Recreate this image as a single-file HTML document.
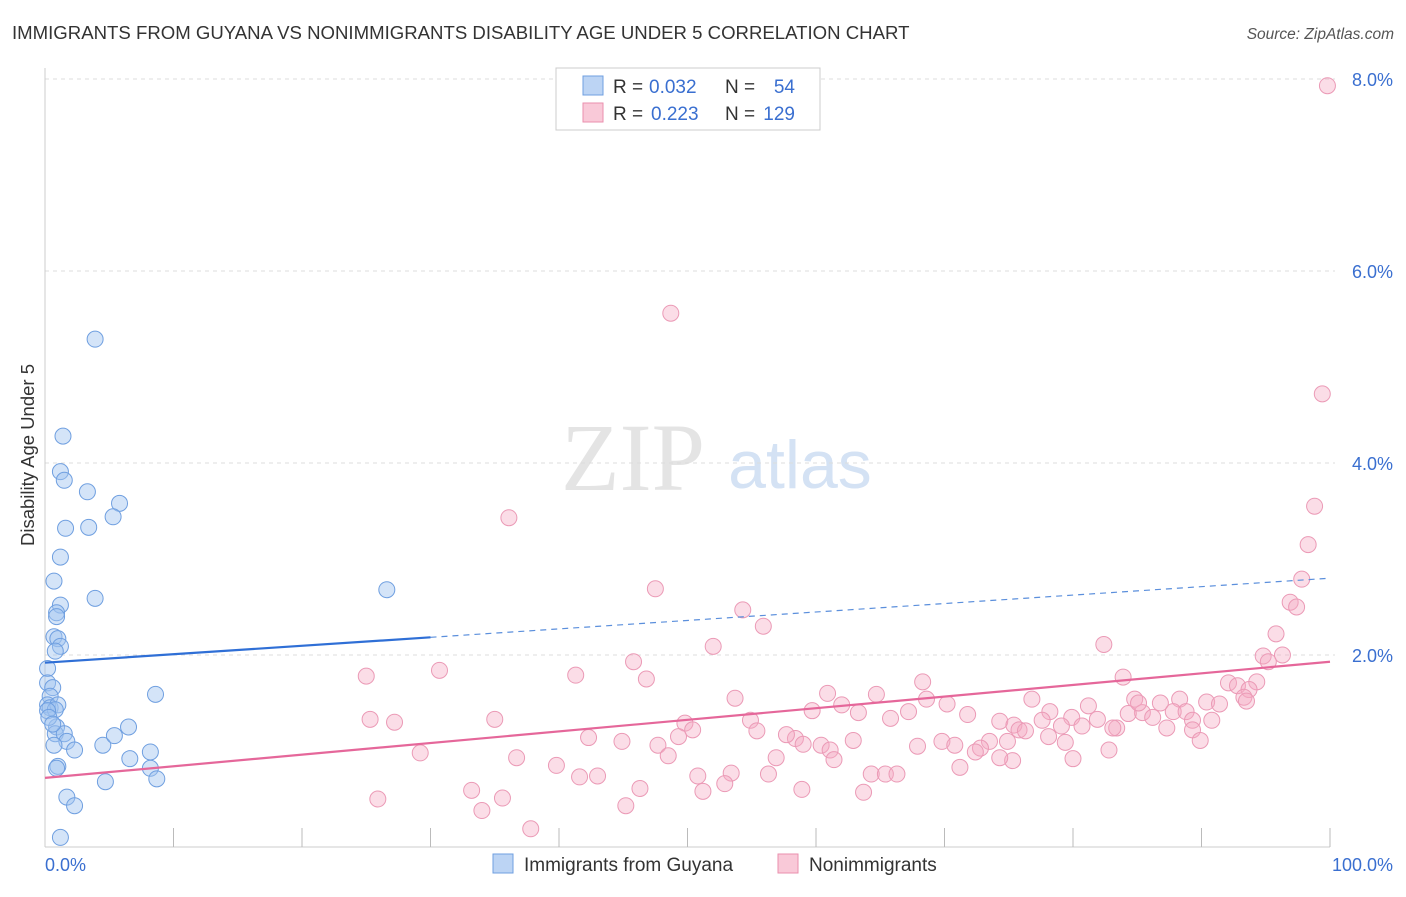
<!DOCTYPE html>
<html><head><meta charset="utf-8"><style>
body{margin:0;background:#fff;font-family:"Liberation Sans",sans-serif;}
svg text{font-family:"Liberation Sans",sans-serif;}
</style></head><body>
<svg id="chart" width="1406" height="892">
<text x="12" y="39" font-size="18.6" fill="#333">IMMIGRANTS FROM GUYANA VS NONIMMIGRANTS DISABILITY AGE UNDER 5 CORRELATION CHART</text>
<text x="1394" y="39" font-size="15.5" fill="#555" font-style="italic" text-anchor="end">Source: ZipAtlas.com</text>
<text x="34" y="455" font-size="18.5" fill="#333" text-anchor="middle" transform="rotate(-90 34 455)">Disability Age Under 5</text>
<g>
<text x="633" y="490" font-size="96" fill="#e4e4e4" text-anchor="middle" font-family="Liberation Serif" style="font-family:'Liberation Serif',serif">ZIP</text>
<text x="800" y="488" font-size="68" fill="#d4e2f4" text-anchor="middle">atlas</text>
</g>
<g id="grid"></g>
<g id="marks"></g>
<g>
<rect x="556" y="68" width="264" height="62" fill="#fff" stroke="#ccc"/>
<rect x="583" y="76" width="20" height="19" fill="#bcd4f4" stroke="#6f9fe0"/>
<rect x="583" y="103" width="20" height="19" fill="#f9c9d8" stroke="#ea8fae"/>
<text x="613" y="93" font-size="19" fill="#333">R =</text>
<text x="649" y="93" font-size="19" fill="#3a6fd0">0.032</text>
<text x="725" y="93" font-size="19" fill="#333">N =</text>
<text x="795" y="93" font-size="19" fill="#3a6fd0" text-anchor="end">54</text>
<text x="613" y="120" font-size="19" fill="#333">R =</text>
<text x="651" y="120" font-size="19" fill="#3a6fd0">0.223</text>
<text x="725" y="120" font-size="19" fill="#333">N =</text>
<text x="795" y="120" font-size="19" fill="#3a6fd0" text-anchor="end">129</text>
</g>
<g>
<rect x="493" y="854" width="20" height="19" fill="#bcd4f4" stroke="#6f9fe0"/>
<text x="524" y="871" font-size="19" fill="#333">Immigrants from Guyana</text>
<rect x="778" y="854" width="20" height="19" fill="#f9c9d8" stroke="#ea8fae"/>
<text x="809" y="871" font-size="19" fill="#333">Nonimmigrants</text>
</g>
</svg>
<script>
const yTicks=[2,4,6,8];
const yTickLabels=["2.0%","4.0%","6.0%","8.0%"];
const xTickLabels=["0.0%","100.0%"];
const blueX=[3.9,1.4,1.2,1.5,3.3,5.8,5.3,1.6,3.4,1.2,0.7,3.9,1.2,0.9,0.9,0.7,1.0,1.2,0.8,0.2,0.2,0.6,0.4,0.2,0.4,1.0,0.8,0.2,0.9,0.8,1.5,1.7,0.7,2.3,4.5,5.4,6.5,8.6,8.2,6.6,1.0,0.9,8.2,8.7,4.7,1.7,2.3,1.2,26.6,0.3,0.6];
const blueY=[5.29,4.28,3.91,3.82,3.70,3.58,3.44,3.32,3.33,3.02,2.77,2.59,2.52,2.44,2.40,2.19,2.17,2.09,2.04,1.86,1.71,1.66,1.57,1.48,1.45,1.48,1.43,1.42,1.25,1.18,1.18,1.10,1.06,1.01,1.06,1.16,1.25,1.59,0.99,0.92,0.84,0.82,0.82,0.71,0.68,0.52,0.43,0.10,2.68,1.35,1.28];
const pinkX=[99.8,48.7,99.4,36.1,98.8,98.3,97.8,47.5,96.9,97.4,54.3,55.9,95.8,52.0,82.4,94.8,96.3,95.2,45.8,25.0,30.7,41.3,46.8,94.3,83.9,92.1,92.8,93.7,93.3,68.3,60.9,64.7,76.8,84.8,86.8,88.3,90.4,91.4,93.5,81.2,68.6,53.7,62.0,63.3,65.8,70.2,67.2,78.2,79.9,85.4,86.2,87.8,88.8,89.3,90.8,81.9,84.3,77.6,59.7,71.8,74.3,54.9,49.8,50.4,25.3,27.2,35.0,75.4,75.8,79.1,80.7,83.4,87.3,89.3,76.3,58.4,62.9,42.3,44.9,49.3,55.4,57.7,69.8,70.8,73.5,78.1,83.1,72.8,74.9,79.4,60.4,59.0,61.1,47.7,89.9,82.8,67.9,72.4,56.9,61.4,48.5,29.2,36.7,39.8,75.3,80.0,71.2,64.3,65.4,66.3,53.4,56.3,50.8,41.6,43.0,46.3,51.2,52.9,63.7,58.9,33.2,35.6,25.9,34.0,45.2,37.8,74.3,85.1];
const pinkY=[7.93,5.56,4.72,3.43,3.55,3.15,2.79,2.69,2.55,2.50,2.47,2.30,2.22,2.09,2.11,1.99,2.00,1.93,1.93,1.78,1.84,1.79,1.75,1.72,1.77,1.71,1.68,1.64,1.56,1.72,1.60,1.59,1.54,1.54,1.50,1.54,1.51,1.49,1.52,1.47,1.54,1.55,1.48,1.40,1.34,1.49,1.41,1.41,1.35,1.40,1.35,1.41,1.41,1.32,1.32,1.33,1.39,1.32,1.42,1.38,1.31,1.32,1.29,1.22,1.33,1.30,1.33,1.27,1.22,1.26,1.26,1.24,1.24,1.22,1.21,1.13,1.11,1.14,1.10,1.15,1.21,1.17,1.10,1.06,1.10,1.15,1.24,1.03,1.10,1.09,1.06,1.07,1.01,1.06,1.11,1.01,1.05,0.99,0.93,0.91,0.95,0.98,0.93,0.85,0.90,0.92,0.83,0.76,0.76,0.76,0.77,0.76,0.74,0.73,0.74,0.61,0.58,0.66,0.57,0.60,0.59,0.51,0.50,0.38,0.43,0.19,0.93,1.50];
const blueTrend=[1.92,2.80];
const pinkTrend=[0.72,1.93];
const blueSolidEnd=30;

const NS="http://www.w3.org/2000/svg";
const X0=45,X1=1330,YB=847,PPU=96;
const sx=v=>X0+(X1-X0)*v/100;
const sy=v=>YB-v*PPU;
function mk(tag,attrs,parent){const e=document.createElementNS(NS,tag);for(const k in attrs)e.setAttribute(k,attrs[k]);parent.appendChild(e);return e;}
const grid=document.getElementById('grid'),marks=document.getElementById('marks');
yTicks.forEach((t,i)=>{
  const g=mk('line',{x1:X0,x2:X1+5,y1:sy(t),y2:sy(t),stroke:'#ddd','stroke-dasharray':'4,4'},grid);
  
  
  const l=mk('text',{x:1393,y:sy(t)+7,'font-size':18,fill:'#3a6fd0','text-anchor':'end'},grid);
  l.textContent=yTickLabels[i];
  
  
});
mk('line',{x1:X0,x2:X0,y1:68,y2:YB,stroke:'#ccc'},grid);
mk('line',{x1:X0,x2:X1,y1:YB,y2:YB,stroke:'#ccc'},grid);
for(let i=1;i<=10;i++){mk('line',{x1:sx(i*10),x2:sx(i*10),y1:828,y2:YB,stroke:'#bbb'},grid);}
[[0,'start',45],[100,'end',1393]].forEach((d,i)=>{
  const l=mk('text',{x:d[2],y:871,'font-size':18,fill:'#3a6fd0','text-anchor':d[1]},grid);
  l.textContent=xTickLabels[i];
  
  
});
pinkX.forEach((x,i)=>{
  const c=mk('circle',{cx:sx(x),cy:sy(pinkY[i]),r:8,fill:'rgba(246,170,196,0.4)',stroke:'#eb9ab6','stroke-width':1},marks);
  
  
});
blueX.forEach((x,i)=>{
  const c=mk('circle',{cx:sx(x),cy:sy(blueY[i]),r:8,fill:'rgba(160,195,240,0.45)',stroke:'#6f9fe0','stroke-width':1},marks);
  
  
});
const bAt=x=>blueTrend[0]+(blueTrend[1]-blueTrend[0])*x/100;
const t1=mk('line',{x1:sx(0),y1:sy(bAt(0)),x2:sx(blueSolidEnd),y2:sy(bAt(blueSolidEnd)),stroke:'#2f6fd6','stroke-width':2.2},marks);


const t2=mk('line',{x1:sx(blueSolidEnd),y1:sy(bAt(blueSolidEnd)),x2:sx(100),y2:sy(bAt(100)),stroke:'#5b8fdc','stroke-width':1.2,'stroke-dasharray':'6,5'},marks);


const t3=mk('line',{x1:sx(0),y1:sy(pinkTrend[0]),x2:sx(100),y2:sy(pinkTrend[1]),stroke:'#e5679a','stroke-width':2.2},marks);


</script>
</body></html>
